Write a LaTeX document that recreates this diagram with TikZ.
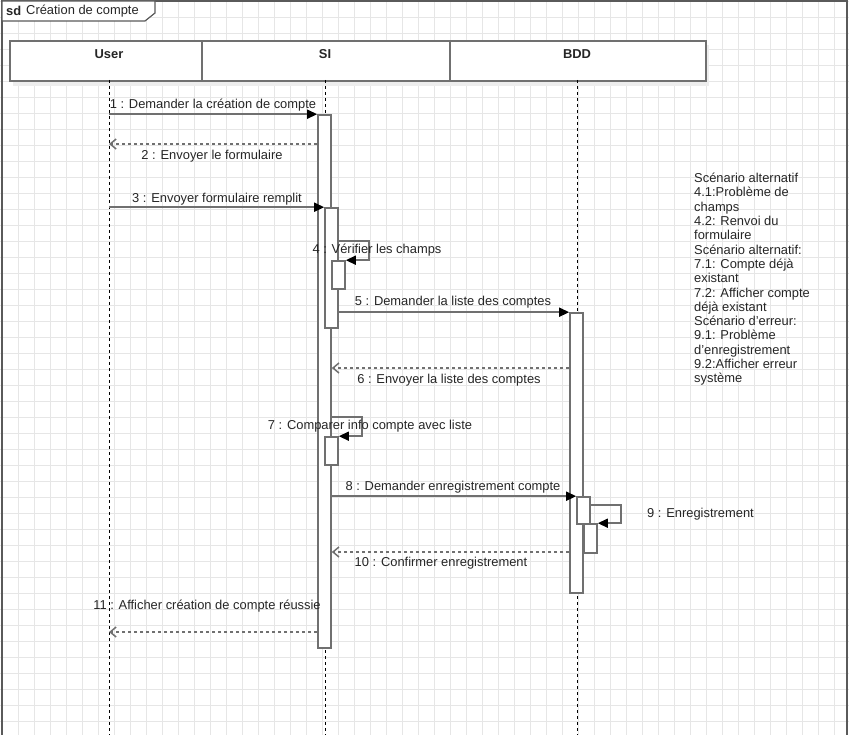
\documentclass[tikz,border=0pt]{standalone}
\usepackage{fontspec}
\setmainfont{Liberation Sans}
\usetikzlibrary{arrows.meta}

\definecolor{traco}{HTML}{707070}
\definecolor{grade}{HTML}{E6E6E6}

\tikzset{
  act/.style={draw=traco, line width=1.6pt, fill=white, minimum width=13pt, inner sep=0pt},
  cabec/.style={draw=traco, line width=1.8pt, fill=white, minimum height=40pt, inner sep=0pt, anchor=north west},
  msg/.style={draw=traco, line width=1.5pt, -{Triangle[length=10pt,width=9pt,color=black]}},
  ret/.style={draw=traco, line width=1.5pt, dash pattern=on 3pt off 3pt, -{Straight Barb[length=6pt,width=10pt,color=traco]}},
  vida/.style={draw=black, line width=1pt, dash pattern=on 3pt off 3pt},
  rot/.style={font=\fontsize{12.9}{15}\selectfont, text=black!85, inner sep=0pt}
}

\begin{document}
\begin{tikzpicture}[x=1pt, y=-1pt]
  \useasboundingbox (0,0) rectangle (849,735);
  % Grade de fundo
  \fill[white] (0,0) rectangle (849,735);
  \foreach \gx in {2,18,...,850} \draw[grade, line width=0.8pt] (\gx,0) -- (\gx,735);
  \foreach \gy in {1,17,...,740} \draw[grade, line width=0.8pt] (0,\gy) -- (849,\gy);

  % Moldura sd
  \draw[traco!80!black, line width=1.2pt] (2,735) -- (2,1) -- (847,1) -- (847,735);
  \draw[traco!80!black, line width=1.2pt, fill=white] (2,1) -- (155,1) -- (155,13) -- (145,21) -- (2,21) -- cycle;
  \node[rot, anchor=west] (sd) at (6,11) {\textbf{sd}};
  \node[rot, anchor=west] (titulo) at (26,11) {Création de compte};

  % Cabecalhos
  \fill[black!7] (13,45) rectangle (709,86);
  \node[cabec, minimum width=192pt] (user) at (9,40) {};
  \node[cabec, minimum width=248pt] (si) at (201,40) {};
  \node[cabec, minimum width=256pt] (bdd) at (449,40) {};
  \node[rot, font=\fontsize{12.9}{15}\selectfont\bfseries] (userlbl) at (109,54) {User};
  \node[rot, font=\fontsize{12.9}{15}\selectfont\bfseries] (silbl) at (325,54) {SI};
  \node[rot, font=\fontsize{12.9}{15}\selectfont\bfseries] (bddlbl) at (577,54) {BDD};

  % Linhas de vida
  \coordinate (vu) at (109,80);
  \coordinate (vs) at (325,80);
  \coordinate (vb) at (577,80);
  \draw[vida] (vu) -- (109,735);
  \draw[vida] (vs) -- (325,735);
  \draw[vida] (vb) -- (577,735);

  % Ativacoes
  \node[act, minimum height=533pt] (a1) at (324.5,381.5) {};
  \node[act, minimum height=120pt] (a2) at (331.5,268) {};
  \node[act, minimum height=28pt] (a3) at (338.5,275) {};
  \node[act, minimum height=28pt] (a4) at (331.5,451) {};
  \node[act, minimum height=280pt] (b1) at (576.5,453) {};
  \node[act, minimum height=27pt] (b2) at (583.5,510.5) {};
  \node[act, minimum height=29pt] (b3) at (590.5,538.5) {};

  % Mensagens
  \draw[msg] (vu |- a1.north) -- (a1.north west);
  \draw[ret] (a1.west |- 0,144) -- (vu |- 0,144);
  \draw[msg] (vu |- a2.north) -- (a2.north west);
  \draw[msg] (a2.east |- 0,241) -- ++(30,0) |- (a3.north east);
  \draw[msg] (a2.east |- b1.north) -- (b1.north west);
  \draw[ret] (b1.west |- 0,368) -- (a1.east |- 0,368);
  \draw[msg] (a1.east |- 0,417) -- ++(30,0) |- (a4.north east);
  \draw[msg] (a1.east |- b2.north) -- (b2.north west);
  \draw[msg] (b2.east |- 0,505) -- ++(30,0) |- (b3.north east);
  \draw[ret] (b1.west |- 0,552) -- (a1.east |- 0,552);
  \draw[ret] (a1.west |- 0,632) -- (vu |- 0,632);

  \node[rot] (m1) at (213,105) {1 : Demander la création de compte};
  \node[rot] (m2) at (212,156) {2 : Envoyer le formulaire};
  \node[rot] (m3) at (217,199) {3 : Envoyer formulaire remplit};
  \node[rot] (m4) at (377,250) {4 : Vérifier les champs};
  \node[rot] (m5) at (453,302) {5 : Demander la liste des comptes};
  \node[rot] (m6) at (449,380) {6 : Envoyer la liste des comptes};
  \node[rot] (m7) at (370,426) {7 : Comparer info compte avec liste};
  \node[rot] (m8) at (453,487) {8 : Demander enregistrement compte};
  \node[rot, anchor=west] (m9) at (647,514) {9 : Enregistrement};
  \node[rot] (m10) at (441,563) {10 : Confirmer enregistrement};
  \node[rot] (m11) at (207,606) {11 : Afficher création de compte réussie};

  % Nota
  \node[rot, anchor=north west, align=left, font=\fontsize{12.9}{14.3}\selectfont] (nota) at (694,173) {%
    Scénario alternatif\\ 4.1:Problème de\\ champs\\ 4.2: Renvoi du\\ formulaire\\
    Scénario alternatif:\\ 7.1: Compte déjà\\ existant\\ 7.2: Afficher compte\\ déjà existant\\
    Scénario d'erreur:\\ 9.1: Problème\\ d'enregistrement\\ 9.2:Afficher erreur\\ système};
\end{tikzpicture}
\end{document}
